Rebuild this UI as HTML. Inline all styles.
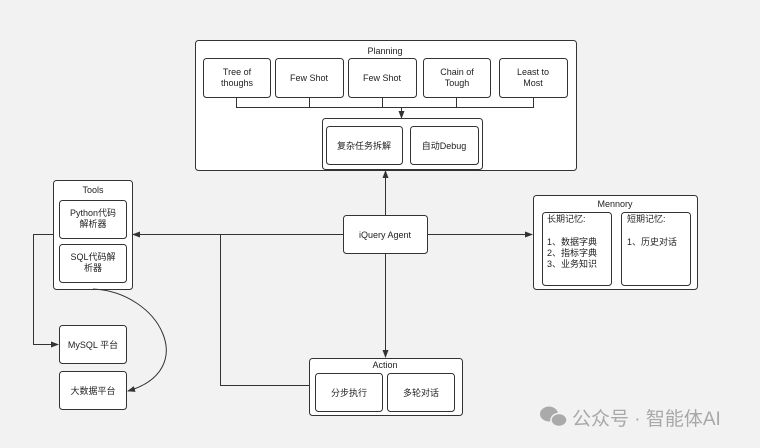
<!DOCTYPE html>
<html><head><meta charset="utf-8"><style>
html,body{margin:0;padding:0;background:#f2f2f2;}
svg{display:block;}
text{font-family:"Liberation Sans","Noto Sans CJK SC",sans-serif;font-size:9px;fill:#222;text-anchor:middle;}
.b{fill:#fff;stroke:#333;stroke-width:1;}
.l{fill:none;stroke:#333;stroke-width:1;}
</style></head><body>
<svg width="760" height="448" viewBox="0 0 760 448" xmlns="http://www.w3.org/2000/svg">
<defs><marker id="a" markerWidth="8" markerHeight="8" refX="7" refY="4" orient="auto" markerUnits="userSpaceOnUse"><path d="M0,1 L8,4 L0,7 Z" fill="#333"/></marker></defs>
<rect width="760" height="448" fill="#f2f2f2"/>
<!-- Planning -->
<rect class="b" x="195.5" y="40.5" width="381" height="130" rx="3"/>
<text x="385" y="54">Planning</text>
<rect class="b" x="203.5" y="58.5" width="67" height="39" rx="3"/>
<text x="237" y="75">Tree of</text><text x="237" y="86">thoughs</text>
<rect class="b" x="275.5" y="58.5" width="68" height="39" rx="3"/>
<text x="309" y="81">Few Shot</text>
<rect class="b" x="348.5" y="58.5" width="68" height="39" rx="3"/>
<text x="382" y="81">Few Shot</text>
<rect class="b" x="423.5" y="58.5" width="67" height="39" rx="3"/>
<text x="457" y="75">Chain of</text><text x="457" y="86">Tough</text>
<rect class="b" x="499.5" y="58.5" width="68" height="39" rx="3"/>
<text x="533" y="75">Least to</text><text x="533" y="86">Most</text>
<path class="l" d="M236.5 97 V107.5 H533.5 V97 M309.5 97 V107.5 M382.5 97 V107.5 M456.5 97 V107.5"/>
<path class="l" d="M401.5 107.5 V118" marker-end="url(#a)"/>
<rect class="b" x="322.5" y="118.5" width="160" height="51" rx="3"/>
<rect class="b" x="326.5" y="126.5" width="76" height="38" rx="3"/>
<text x="364" y="149">复杂任务拆解</text>
<rect class="b" x="410.5" y="126.5" width="68" height="38" rx="3"/>
<text x="444" y="149">自动Debug</text>
<!-- Agent -->
<rect class="b" x="343.5" y="215.5" width="84" height="38" rx="3"/>
<text x="385" y="238">iQuery Agent</text>
<path class="l" d="M385.5 215 V171" marker-end="url(#a)"/>
<path class="l" d="M385.5 253 V357" marker-end="url(#a)"/>
<path class="l" d="M427 234.5 H532" marker-end="url(#a)"/>
<path class="l" d="M343 234.5 H133" marker-end="url(#a)"/>
<path class="l" d="M220.5 234.5 V385.5 H309"/>
<!-- Tools -->
<rect class="b" x="53.5" y="180.5" width="79" height="109" rx="3"/>
<text x="93" y="193">Tools</text>
<rect class="b" x="59.5" y="200.5" width="67" height="38" rx="3"/>
<text x="93" y="216">Python代码</text><text x="93" y="227">解析器</text>
<rect class="b" x="59.5" y="244.5" width="67" height="38" rx="3"/>
<text x="93" y="260">SQL代码解</text><text x="93" y="271">析器</text>
<path class="l" d="M53 234.5 H33.5 V344.5 H58" marker-end="url(#a)"/>
<rect class="b" x="59.5" y="325.5" width="67" height="38" rx="3"/>
<text x="93" y="348">MySQL 平台</text>
<rect class="b" x="59.5" y="371.5" width="67" height="38" rx="3"/>
<text x="93" y="394">大数据平台</text>
<path class="l" d="M93 289 C160 292 200 370 128 391" marker-end="url(#a)"/>
<!-- Mennory -->
<rect class="b" x="533.5" y="195.5" width="164" height="94" rx="3"/>
<text x="615" y="207">Mennory</text>
<rect class="b" x="542.5" y="212.5" width="69" height="73" rx="3"/>
<rect class="b" x="621.5" y="212.5" width="69" height="73" rx="3"/>
<text x="547" y="222" style="text-anchor:start">长期记忆:</text>
<text x="547" y="245" style="text-anchor:start">1、数据字典</text>
<text x="547" y="256" style="text-anchor:start">2、指标字典</text>
<text x="547" y="267" style="text-anchor:start">3、业务知识</text>
<text x="627" y="222" style="text-anchor:start">短期记忆:</text>
<text x="627" y="245" style="text-anchor:start">1、历史对话</text>
<!-- Action -->
<rect class="b" x="309.5" y="358.5" width="153" height="57" rx="3"/>
<text x="385" y="368">Action</text>
<rect class="b" x="315.5" y="373.5" width="67" height="38" rx="3"/>
<text x="349" y="396">分步执行</text>
<rect class="b" x="387.5" y="373.5" width="67" height="38" rx="3"/>
<text x="421" y="396">多轮对话</text>
<!-- watermark -->
<ellipse cx="549" cy="414" rx="9" ry="7.5" fill="#aaa"/>
<ellipse cx="559" cy="420" rx="8" ry="6.5" fill="#aaa" stroke="#f2f2f2" stroke-width="1.5"/>
<text x="572" y="425" style="text-anchor:start;font-size:19px;fill:#a8a8a8">公众号 · 智能体AI</text>
</svg>
</body></html>
